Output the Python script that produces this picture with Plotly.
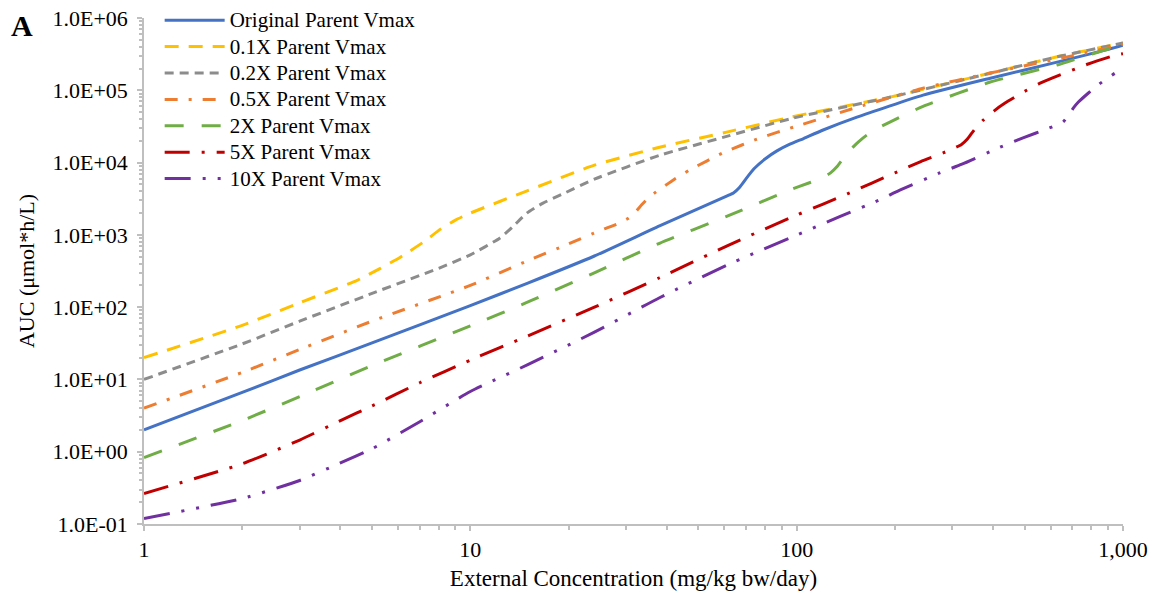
import plotly.graph_objects as go

# ---- data ----
names = ["Original Parent Vmax", "0.1X Parent Vmax", "0.2X Parent Vmax",
         "0.5X Parent Vmax", "2X Parent Vmax", "5X Parent Vmax", "10X Parent Vmax"]

orig_x = [1, 2, 3, 5, 10, 15, 24, 38, 61, 64, 67, 70, 74, 80, 87, 95, 105, 120, 153, 244, 392,
          628, 933, 1000]
orig_y = [2.0, 6.6, 13.5, 32, 105, 215, 510, 1330, 3430, 3800, 4600, 6000, 8200, 11200, 14500,
          17800, 21500, 28000, 42500, 85700, 147000, 245000, 384000, 420000]

x01_x = [1, 2, 3, 4.5, 5.3, 6.1, 7.2, 8.1, 9, 10, 15, 24, 38, 61, 97, 193, 392, 628, 933, 1000]
x01_y = [20, 56, 115, 235, 344, 490, 800, 1200, 1600, 2000, 4100, 9200, 16300, 26400, 43000,
         80500, 173000, 291000, 423000, 450000]

x02_x = [1, 2, 3, 5, 8, 10, 12.3, 13.5, 14.9, 16.7, 19, 24, 38, 61, 97, 193, 392, 628, 1000]
x02_y = [10, 31, 64, 155, 345, 530, 900, 1300, 2000, 2750, 3600, 5900, 12600, 23000, 41000,
         80000, 172000, 290000, 450000]

x05_x = [1, 2, 3, 5, 10, 15, 20, 25, 28, 30.5, 32, 33.5, 35, 37, 39, 42, 47, 60, 77, 98,
         153, 244, 392, 794, 1000]
x05_y = [4.0, 12.5, 26, 64, 200, 440, 750, 1150, 1400, 1700, 2050, 2600, 3200, 3900, 4600, 5800,
         7900, 13900, 21800, 31000, 58000, 107000, 173000, 339000, 435000]

x2_x = [1, 2, 3.16, 5, 10, 14.9, 23.8, 38, 61, 95, 110, 120, 127, 133, 139, 146, 155, 164, 180,
        193, 244, 392, 628, 933, 1000]
x2_y = [0.83, 2.7, 6.4, 15.6, 55, 116, 294, 765, 1800, 4150, 5300, 6200, 7200, 8800, 11500, 15000,
        19500, 24000, 31000, 36300, 60000, 130000, 224000, 390000, 405000]

x5_x = [1, 2, 3, 4, 5, 7, 10, 15, 24, 38, 61, 95, 120, 143, 170, 200, 240, 281, 308, 320, 333,
        345, 358, 373, 403, 435, 508, 550, 606, 713, 782, 946, 1000]
x5_y = [0.264, 0.68, 1.45, 2.7, 4.3, 9, 18.5, 40, 100, 255, 700, 1700, 2650, 3700, 5200, 7200,
        10300, 13600, 16300, 17800, 21000, 26000, 32000, 38600, 52000, 66500, 100700, 122000,
        147000, 197000, 231000, 305000, 320000]

x10_x = [1, 2, 3, 4, 5, 7, 10, 15, 24, 38, 61, 95, 136, 178, 207, 273, 321, 420, 494,
         594, 655, 680, 705, 730, 782, 846, 946, 1000]
x10_y = [0.119, 0.225, 0.4, 0.7, 1.1, 2.6, 6.8, 16, 45, 135, 380, 900, 1800, 3000, 4150, 7130,
         9500, 16300, 22000, 30000, 36300, 45000, 57000, 68700, 91000, 122000, 173000, 195000]

xs = [orig_x, x01_x, x02_x, x05_x, x2_x, x5_x, x10_x]
ys = [orig_y, x01_y, x02_y, x05_y, x2_y, x5_y, x10_y]

x_tickvals = [1, 10, 100, 1000]
x_ticktext = ["1", "10", "100", "1,000"]
y_tickvals = [0.1, 1, 10, 100, 1e3, 1e4, 1e5, 1e6]
y_ticktext = ["1.0E-01", "1.0E+00", "1.0E+01", "1.0E+02", "1.0E+03", "1.0E+04", "1.0E+05", "1.0E+06"]

# minor tick positions (2..9 within each decade)
x_minor = [m * 10 ** e for e in range(0, 3) for m in range(2, 10)]
y_minor = [m * 10.0 ** e for e in range(-1, 6) for m in range(2, 10)]

# ---- styles ----
colors = ["#4472C4", "#FFC000", "#8C8C8C", "#ED7D31", "#70AD47", "#C00000", "#7030A0"]
dashes = ["solid", "14px,10px", "9px,6px", "13px,11px,3px,11px", "19px,18px",
          "25px,12px,3px,12px", "26px,12px,3px,12px,3px,12px"]

FONT = "Liberation Serif, Times New Roman, serif"
AXIS_C = "#BFBFBF"

fig = go.Figure()
for n, x, y, c, d in zip(names, xs, ys, colors, dashes):
    fig.add_trace(go.Scatter(x=x, y=y, mode="lines",
                             # legend label drawn a little larger than the row-spacing font
                             name='<span style="font-size:21px">' + n + '</span>',
                             line=dict(color=c, width=3, dash=d, shape="spline", smoothing=0.5)))

fig.update_layout(
    width=1165, height=602,
    margin=dict(l=144, r=42, t=18, b=78, autoexpand=False),
    plot_bgcolor="white", paper_bgcolor="white",
    font=dict(family=FONT, color="black", size=21),
    showlegend=True,
    legend=dict(x=0.016, y=1.0316, xanchor="left", yanchor="top",
                font=dict(family=FONT, size=18, color="black"),
                bgcolor="rgba(0,0,0,0)", itemwidth=60, tracegroupgap=0),
    xaxis=dict(type="log", range=[0, 3], tickvals=x_tickvals, ticktext=x_ticktext,
               showgrid=False, zeroline=False, showline=True, linecolor=AXIS_C, linewidth=1.5,
               ticks="outside", ticklen=5, tickcolor=AXIS_C, tickwidth=1.5,
               ticklabelstandoff=0,
               tickfont=dict(family=FONT, size=22, color="black"),
               minor=dict(tickmode="array", tickvals=x_minor, ticks="outside", ticklen=4,
                          tickcolor=AXIS_C, tickwidth=1.5, showgrid=False),
               title=dict(text="External Concentration (mg/kg bw/day)",
                          font=dict(family=FONT, size=23, color="black"), standoff=9)),
    yaxis=dict(type="log", range=[-1, 6], tickvals=y_tickvals, ticktext=y_ticktext,
               showgrid=False, zeroline=False, showline=True, linecolor=AXIS_C, linewidth=1.5,
               ticks="outside", ticklen=5, tickcolor=AXIS_C, tickwidth=1.5,
               ticklabelstandoff=5,
               tickfont=dict(family=FONT, size=22, color="black"),
               minor=dict(tickmode="array", tickvals=y_minor, ticks="outside", ticklen=3,
                          tickcolor=AXIS_C, tickwidth=1.5, showgrid=False),
               title=dict(text="AUC (μmol*h/L)",
                          font=dict(family=FONT, size=22, color="black"), standoff=12)),
    annotations=[dict(text="<b>A</b>", x=(22 - 144) / 979, y=(524 - 25) / 506,
                      xref="paper", yref="paper", xanchor="center", yanchor="middle",
                      showarrow=False, font=dict(family=FONT, size=30, color="black"))],
)

fig.write_html("out.html")
